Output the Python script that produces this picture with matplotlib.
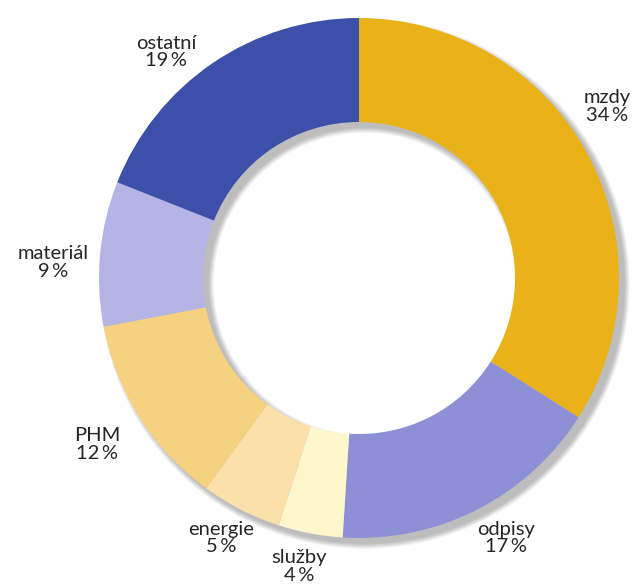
import matplotlib
matplotlib.use("Agg")
import matplotlib.pyplot as plt
from matplotlib.patches import Wedge

# data
labels = ["mzdy", "odpisy", "služby", "energie", "PHM", "materiál", "ostatní"]
values = [34, 17, 4, 5, 12, 9, 19]
colors = ["#E8B218", "#8E90D5", "#FEF7CE", "#FBE0A9", "#F6D180", "#B4B4E6", "#3D50A9"]

# label positions (axes data units, ring radius = 1)
label_pos = [(0.955, 0.66), (0.566, -1.0), (-0.23, -1.11), (-0.53, -1.0),
             (-1.007, -0.64), (-1.175, 0.06), (-0.742, 0.87)]

fig = plt.figure(figsize=(6.38, 5.88), dpi=100)
ax = fig.add_axes([0, 0, 1, 1])
ax.axis("off")

ring_w = 0.40

# soft drop shadow of the ring, offset down-right
dx, dy = 0.022, -0.022
n = 10
for k in range(n):
    grow = 0.0022 * k
    ax.add_patch(Wedge((dx, dy), 1 + grow, 0, 360, width=ring_w + 2 * grow,
                       facecolor="black", edgecolor="none", alpha=0.028))

ax.pie(values, colors=colors, startangle=90, counterclock=False, radius=1,
       wedgeprops=dict(width=ring_w, linewidth=0, edgecolor="none"))
ax.set_xlim(-359 / 260, (638 - 359) / 260)
ax.set_ylim(-(588 - 278) / 260, 278 / 260)
ax.set_aspect("equal")

for lab, val, (x, y) in zip(labels, values, label_pos):
    ax.text(x, y, f"{lab}\n{val}\u2009%", ha="center", va="center",
            fontsize=14.5, color="#262626", family=["Lato", "DejaVu Sans"],
            linespacing=1.02)

fig.savefig("out.png", dpi=100)
